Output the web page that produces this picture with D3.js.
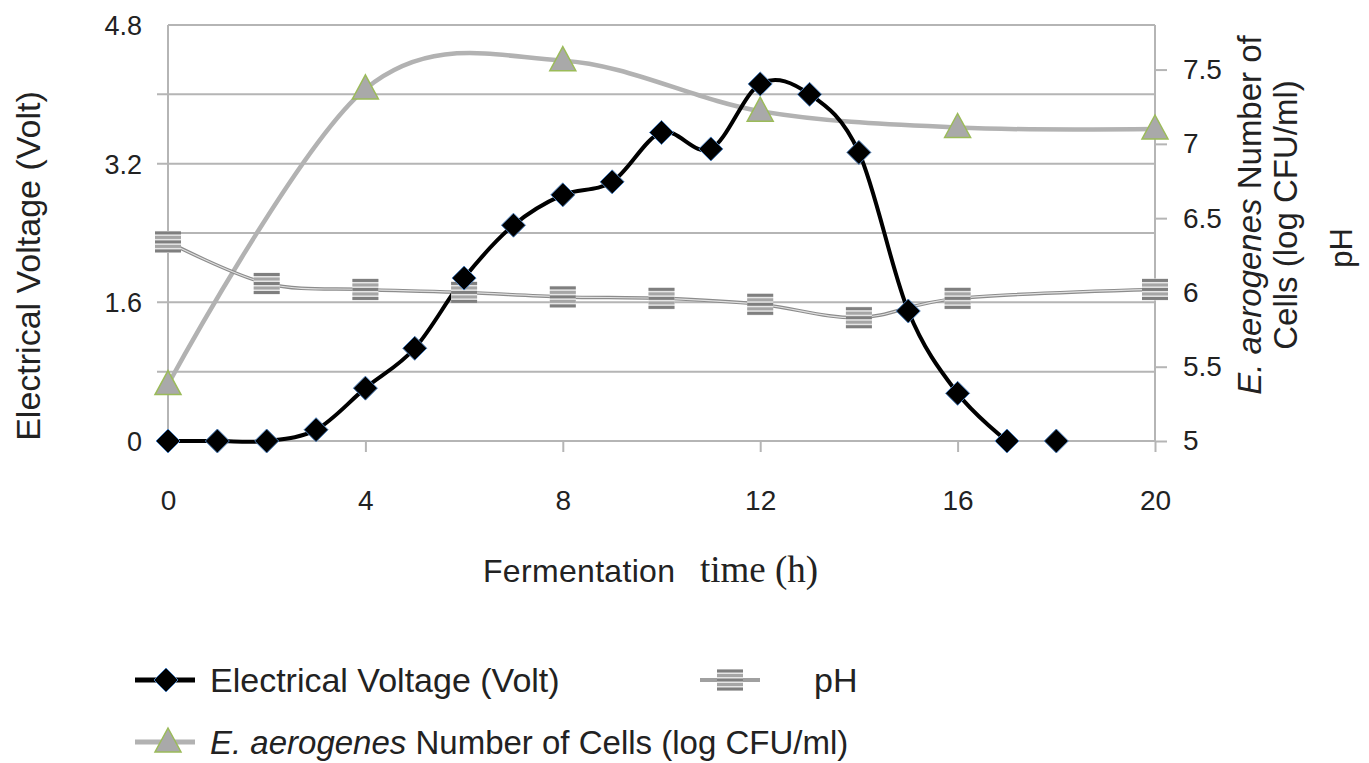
<!DOCTYPE html>
<html>
<head>
<meta charset="utf-8">
<script src="https://cdn.jsdelivr.net/npm/d3@7"></script>
<style>
  body { margin: 0; background: #fff; }
  text { font-family: "Liberation Sans", Arial, sans-serif; fill: #222; }
</style>
</head>
<body>
<svg id="chart" width="1369" height="763"></svg>
<script>
// fermentation time (h)
var voltHours = [0, 1, 2, 3, 4, 5, 6, 7, 8, 9, 10, 11, 12, 13, 14, 15, 16, 17, 18];
var voltValues = [0, 0, 0, 0.13, 0.61, 1.07, 1.88, 2.49, 2.84, 2.99, 3.56, 3.37, 4.12, 4.0, 3.33, 1.5, 0.55, 0, 0];

var cellHours = [0, 4, 8, 12, 16, 20];
var cellValues = [5.38, 7.37, 7.56, 7.22, 7.11, 7.1];

var phHours = [0, 2, 4, 6, 8, 10, 12, 14, 16, 20];
var phValues = [6.34, 6.06, 6.02, 6.0, 5.97, 5.96, 5.92, 5.83, 5.96, 6.02];

var xTicks = [0, 4, 8, 12, 16, 20];
var leftTicks = [0, 0.8, 1.6, 2.4, 3.2, 4.0, 4.8];
var leftLabels = [0, 1.6, 3.2, 4.8];
var rightTicks = [5, 5.5, 6, 6.5, 7, 7.5];

var svg = d3.select('#chart');

var x = d3.scaleLinear().domain([0, 20]).range([168, 1155]);
var yLeft = d3.scaleLinear().domain([0, 4.8]).range([441, 25]);
var yRight = d3.scaleLinear().domain([5, 7.8]).range([441, 25]);

var gridColor = '#b5b5b5';

// horizontal grid
svg.append('g')
  .selectAll('line')
  .data(leftTicks)
  .enter()
  .append('line')
    .attr('x1', function(d) { return (d === 0 || d === 4.8) ? x(0) : x(0) - 11; })
    .attr('x2', x(20))
    .attr('y1', function(d) { return yLeft(d); })
    .attr('y2', function(d) { return yLeft(d); })
    .attr('stroke', gridColor)
    .attr('stroke-width', 2);

// left frame line
svg.append('line')
  .attr('x1', x(0)).attr('x2', x(0))
  .attr('y1', yLeft(4.8)).attr('y2', yLeft(0))
  .attr('stroke', gridColor).attr('stroke-width', 2);

// left axis labels
svg.append('g')
  .selectAll('text')
  .data(leftLabels)
  .enter()
  .append('text')
    .attr('x', 142)
    .attr('y', function(d) { return yLeft(d) + 10; })
    .attr('text-anchor', 'end')
    .style('font-size', '27px')
    .text(function(d) { return d === 0 ? '0' : d3.format('.1f')(d); });

// right axis
var axisR = d3.axisRight(yRight)
  .tickValues(rightTicks)
  .tickSize(12)
  .tickPadding(16)
  .tickFormat(function(d) { return d % 1 === 0 ? d3.format('d')(d) : d3.format('.1f')(d); });

var gR = svg.append('g')
  .attr('transform', 'translate(' + x(20) + ',0)')
  .call(axisR);
gR.select('.domain').attr('d', 'M0,' + yRight.range()[1] + 'V' + yRight.range()[0])
  .attr('stroke', gridColor).attr('stroke-width', 2);
gR.selectAll('.tick line').attr('stroke', gridColor).attr('stroke-width', 2);
gR.selectAll('.tick text')
  .style('font-size', '28px')
  .style('font-family', '"Liberation Sans", Arial, sans-serif')
  .attr('fill', '#222');

// bottom axis
var axisB = d3.axisBottom(x)
  .tickValues(xTicks)
  .tickSize(11)
  .tickPadding(38);

var gB = svg.append('g')
  .attr('transform', 'translate(0,' + yLeft(0) + ')')
  .call(axisB);
gB.select('.domain').remove();
gB.selectAll('.tick line').attr('stroke', gridColor).attr('stroke-width', 2);
gB.selectAll('.tick text')
  .style('font-size', '28px')
  .style('font-family', '"Liberation Sans", Arial, sans-serif')
  .attr('fill', '#222');

// axis titles
svg.append('text')
  .attr('transform', 'translate(40,266) rotate(-90)')
  .attr('text-anchor', 'middle')
  .style('font-size', '34px')
  .text('Electrical Voltage (Volt)');

svg.append('text')
  .attr('x', 483)
  .attr('y', 582)
  .attr('textLength', 192)
  .style('font-size', '32px')
  .text('Fermentation');
svg.append('text')
  .attr('x', 700)
  .attr('y', 582)
  .style('font-family', '"Liberation Serif", "Times New Roman", serif')
  .style('font-size', '37px')
  .text('time (h)');

var rt1 = svg.append('text')
  .attr('transform', 'translate(1261,215) rotate(-90)')
  .attr('text-anchor', 'middle')
  .style('font-size', '33px');
rt1.append('tspan').style('font-style', 'italic').text('E. aerogenes');
rt1.append('tspan').text(' Number of');

svg.append('text')
  .attr('transform', 'translate(1297,215) rotate(-90)')
  .attr('text-anchor', 'middle')
  .style('font-size', '33px')
  .text('Cells (log CFU/ml)');

svg.append('text')
  .attr('transform', 'translate(1352,248) rotate(-90)')
  .attr('text-anchor', 'middle')
  .style('font-size', '31px')
  .text('pH');

// marker shapes
function diamond(g, cx, cy) {
  g.append('path')
    .attr('d', 'M' + cx + ',' + (cy - 12) + 'L' + (cx + 12) + ',' + cy + 'L' + cx + ',' + (cy + 12) + 'L' + (cx - 12) + ',' + cy + 'Z')
    .attr('fill', '#000')
    .attr('stroke', '#4a7ebb')
    .attr('stroke-width', 1);
}
function triangle(g, cx, cy) {
  g.append('path')
    .attr('d', 'M' + cx + ',' + (cy - 14) + 'L' + (cx + 13) + ',' + (cy + 10) + 'L' + (cx - 13) + ',' + (cy + 10) + 'Z')
    .attr('fill', '#a9a9a9')
    .attr('stroke', '#9bbb59')
    .attr('stroke-width', 1.5);
}
function phMark(g, cx, cy) {
  g.append('rect')
    .attr('x', cx - 13).attr('y', cy - 11)
    .attr('width', 26).attr('height', 22)
    .attr('fill', '#e6e6e6');
  [-9, -4.5, 0, 4.5, 9].forEach(function(o, i) {
    g.append('rect')
      .attr('x', cx - 13).attr('y', cy + o - 1.5)
      .attr('width', 26).attr('height', 3)
      .attr('fill', i % 2 === 0 ? '#7f7f7f' : '#a6a6a6');
  });
}

var smooth = d3.curveCardinal.tension(0);

// E. aerogenes line
var cellPts = cellHours.map(function(h, i) { return [x(h), yRight(cellValues[i])]; });
svg.append('path')
  .attr('d', d3.line().curve(smooth)(cellPts))
  .attr('fill', 'none')
  .attr('stroke', '#b2b2b2')
  .attr('stroke-width', 4.5);

// pH line
var phPts = phHours.map(function(h, i) { return [x(h), yRight(phValues[i])]; });
svg.append('path')
  .attr('d', d3.line().curve(smooth)(phPts))
  .attr('fill', 'none')
  .attr('stroke', '#8c8c8c')
  .attr('stroke-width', 3.5);
svg.append('path')
  .attr('d', d3.line().curve(smooth)(phPts))
  .attr('fill', 'none')
  .attr('stroke', '#e0e0e0')
  .attr('stroke-width', 1.2);

// voltage line (no segment drawn after 17 h)
var voltPts = voltHours.map(function(h, i) { return [x(h), yLeft(voltValues[i])]; })
  .filter(function(p, i) { return voltHours[i] <= 17; });
svg.append('path')
  .attr('d', d3.line().curve(smooth)(voltPts))
  .attr('fill', 'none')
  .attr('stroke', '#000')
  .attr('stroke-width', 4);

var marks = svg.append('g');
phHours.forEach(function(h, i) { phMark(marks, x(h), yRight(phValues[i])); });
cellHours.forEach(function(h, i) { triangle(marks, x(h), yRight(cellValues[i])); });
voltHours.forEach(function(h, i) { diamond(marks, x(h), yLeft(voltValues[i])); });

// legend
var lg = svg.append('g');
lg.append('line').attr('x1', 135).attr('x2', 195).attr('y1', 680).attr('y2', 680)
  .attr('stroke', '#000').attr('stroke-width', 5);
diamond(lg, 166, 680);
lg.append('text').attr('x', 210).attr('y', 692).style('font-size', '34px')
  .text('Electrical Voltage (Volt)');

lg.append('line').attr('x1', 700).attr('x2', 760).attr('y1', 680).attr('y2', 680)
  .attr('stroke', '#a0a0a0').attr('stroke-width', 4);
phMark(lg, 730, 680);
lg.append('text').attr('x', 814).attr('y', 692).style('font-size', '34px')
  .text('pH');

lg.append('line').attr('x1', 135).attr('x2', 195).attr('y1', 742).attr('y2', 742)
  .attr('stroke', '#b2b2b2').attr('stroke-width', 5);
triangle(lg, 168, 742);
var l3 = lg.append('text').attr('x', 210).attr('y', 754).style('font-size', '33px');
l3.append('tspan').style('font-style', 'italic').text('E. aerogenes');
l3.append('tspan').text(' Number of Cells (log CFU/ml)');
</script>
</body>
</html>
